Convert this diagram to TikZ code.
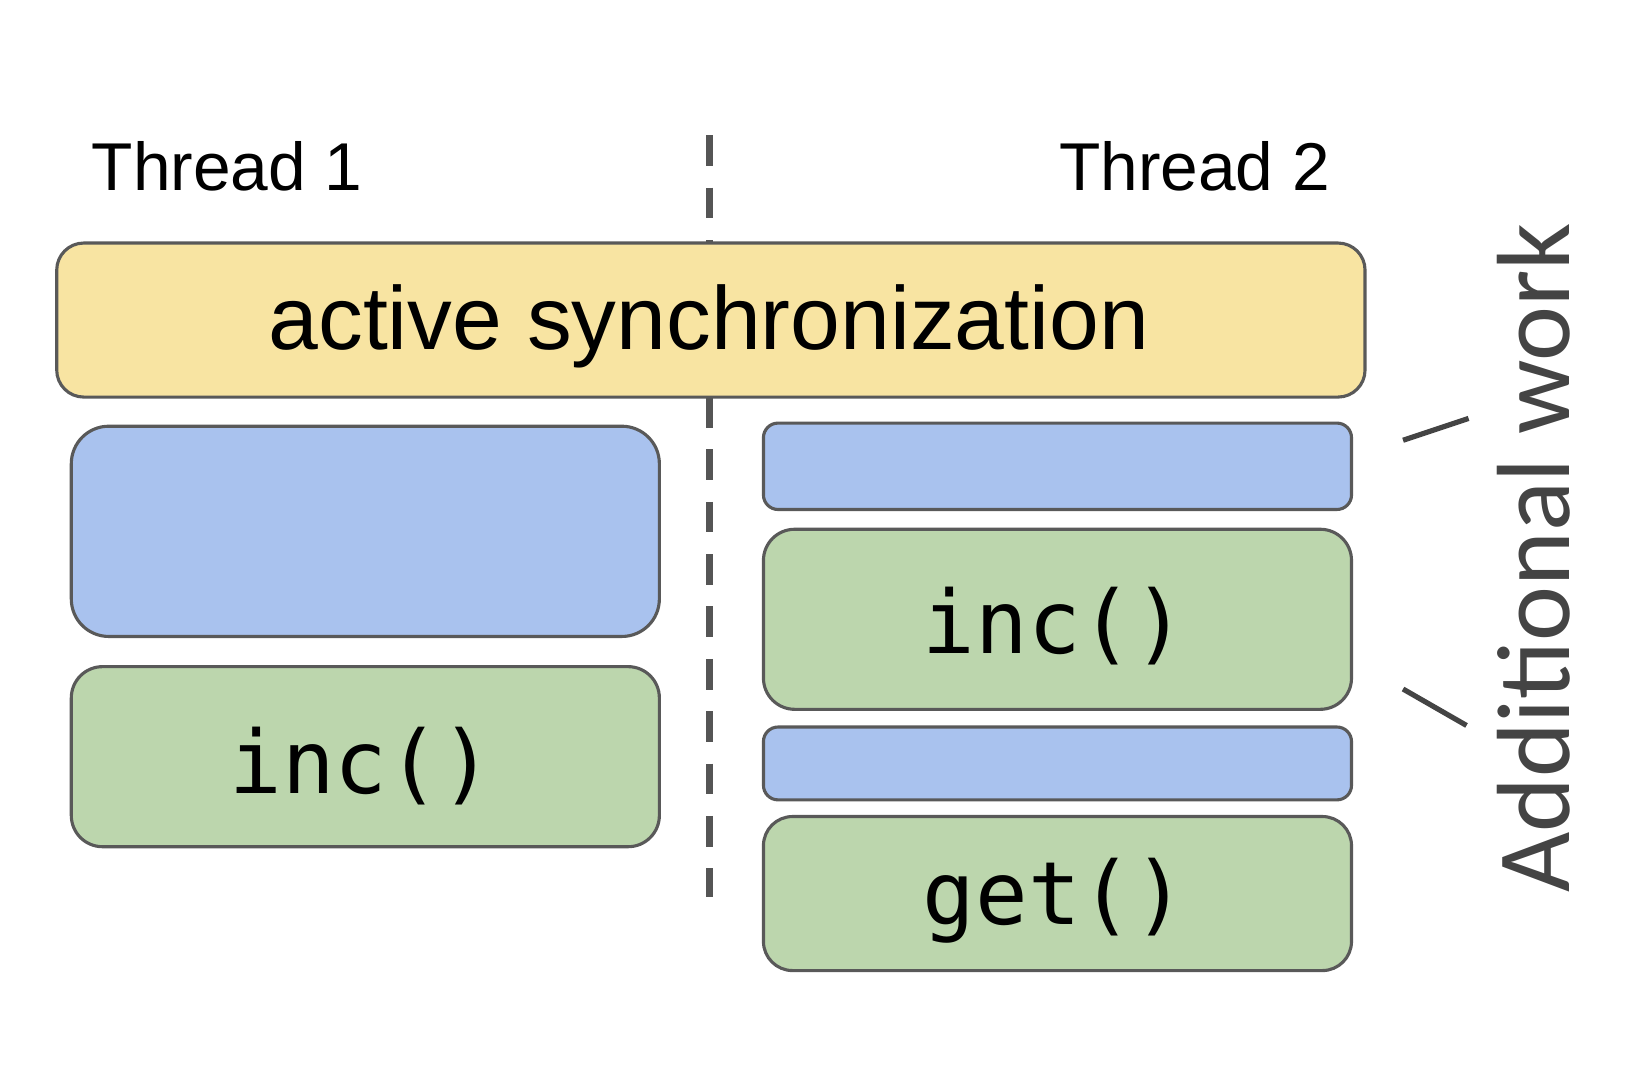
\documentclass[tikz,border=0pt]{standalone}
\usepackage{fontspec}
\setmainfont{Liberation Sans}
\newfontfamily\codefont{DejaVu Sans Mono}
\newfontfamily\calfont{Carlito}
\definecolor{syncfill}{HTML}{F8E4A2}
\definecolor{bluefill}{HTML}{A9C2EE}
\definecolor{greenfill}{HTML}{BCD6AD}
\definecolor{edgegray}{HTML}{595959}
\definecolor{dashgray}{HTML}{555555}
\definecolor{labgray}{HTML}{444444}
\begin{document}
\begin{tikzpicture}[x=1pt,y=-1pt,
  blk/.style={draw=edgegray, line width=3pt, inner sep=0pt, anchor=north west},
  titlelab/.style={inner sep=0pt, font=\fontsize{65}{78}\selectfont},
  codelab/.style={inner sep=0pt, anchor=base, font=\codefont\fontsize{84}{100}\selectfont},
  divider/.style={draw=dashgray, line width=6.5pt, dash pattern=on 29.5pt off 20.8pt},
  slash/.style={draw=labgray, line width=5pt}]
\useasboundingbox (0,0) rectangle (1568,1022.3);
% divider
\coordinate (dtop) at (682,130);
\coordinate (dbot) at (682,862);
\draw[divider] (dtop) -- (dbot);
% titles
\node[titlelab, anchor=base west] (t1) at (88,183) {Thread 1};
\node[titlelab, anchor=base east] (t2) at (1278,183) {Thread 2};
% sync box
\node[blk, fill=syncfill, rounded corners=26pt, minimum width=1257pt, minimum height=148pt] (sync) at (53,232) {};
\node[inner sep=0pt, anchor=base, font=\fontsize{86}{100}\selectfont] (synclab) at (681,336) {active synchronization};
% thread 1
\node[blk, fill=bluefill, rounded corners=36pt, minimum width=565pt, minimum height=202pt] (b1) at (67,408) {};
\node[blk, fill=greenfill, rounded corners=30pt, minimum width=565pt, minimum height=173pt] (g1) at (67,639) {};
\node[codelab] (g1lab) at (347,762) {inc()};
% thread 2
\node[blk, fill=bluefill, rounded corners=14pt, minimum width=565pt, minimum height=83pt] (b2) at (732,405) {};
\node[blk, fill=greenfill, rounded corners=30pt, minimum width=565pt, minimum height=173pt] (g2) at (732,507) {};
\node[codelab] (g2lab) at (1013,628) {inc()};
\node[blk, fill=bluefill, rounded corners=14pt, minimum width=565pt, minimum height=70pt] (b3) at (732,697) {};
\node[blk, fill=greenfill, rounded corners=28pt, minimum width=565pt, minimum height=148pt] (g3) at (732,783) {};
\node[codelab] (g3lab) at (1013,888) {get()};
% additional work
\coordinate (s1a) at (1348,423);
\coordinate (s1b) at (1411,402);
\coordinate (s2a) at (1348,662);
\coordinate (s2b) at (1409,697);
\draw[slash] (s1a) -- (s1b);
\draw[slash] (s2a) -- (s2b);
\node[inner sep=0pt, rotate=90, anchor=base west, text=labgray, font=\calfont\fontsize{100}{120}\selectfont] (addl) at (1508,858) {Additional work};
\end{tikzpicture}
\end{document}
